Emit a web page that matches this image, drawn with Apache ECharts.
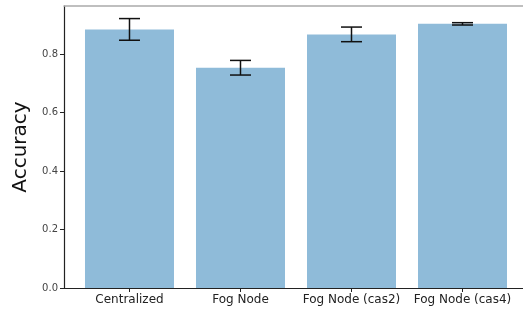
<!DOCTYPE html>
<html>
<head>
<meta charset="utf-8">
<script src="https://cdn.jsdelivr.net/npm/echarts@6/dist/echarts.min.js"></script>
<style>
  html, body { margin: 0; padding: 0; background: #fff; }
  #chart { width: 523px; height: 310px; }
</style>
</head>
<body>
<div id="chart"></div>
<script>
// 数据
var categories = ['Centralized', 'Fog Node', 'Fog Node (cas2)', 'Fog Node (cas4)'];
var accuracy = [0.884, 0.753, 0.867, 0.903];
var errors = [0.037, 0.025, 0.025, 0.004];
var yTicks = [0, 0.2, 0.4, 0.6, 0.8];

var positions = categories.map(function (c, i) { return i; });
var barData = accuracy.map(function (v, i) { return [i, v]; });
var errData = accuracy.map(function (v, i) { return [i, v - errors[i], v + errors[i]]; });

var myChart = echarts.init(document.getElementById('chart'));

var option = {
    backgroundColor: '#fff',
    animation: false,
    textStyle: { fontFamily: 'DejaVu Sans' },
    grid: { left: 64, right: 0, top: 6, bottom: 22, containLabel: false },
    xAxis: [
        {
            type: 'value',
            min: -0.59,
            max: 3.545,
            position: 'bottom',
            axisLine: { show: true, onZero: false, lineStyle: { color: '#222', width: 1.2 } },
            axisTick: { show: true, customValues: positions, length: 4, lineStyle: { color: '#222' } },
            axisLabel: {
                customValues: positions,
                color: '#222',
                fontSize: 12,
                margin: 6,
                formatter: function (v) { return categories[Math.round(v)]; }
            },
            splitLine: { show: false }
        },
        {
            type: 'value',
            min: -0.59,
            max: 3.545,
            position: 'top',
            axisLine: { show: true, onZero: false, lineStyle: { color: '#aaa', width: 1.5 } },
            axisTick: { show: false },
            axisLabel: { show: false },
            splitLine: { show: false }
        }
    ],
    yAxis: {
        type: 'value',
        min: 0,
        max: 0.964,
        name: 'Accuracy',
        nameLocation: 'middle',
        nameGap: 32,
        nameTextStyle: { fontSize: 20, color: '#111' },
        axisLine: { show: true, onZero: false, lineStyle: { color: '#222', width: 1.2 } },
        axisTick: { show: true, customValues: yTicks, length: 4, lineStyle: { color: '#222' } },
        axisLabel: {
            customValues: yTicks,
            color: '#444',
            fontSize: 10,
            margin: 6,
            formatter: function (v) { return v.toFixed(1); }
        },
        splitLine: { show: false }
    },
    series: [
        {
            type: 'bar',
            xAxisIndex: 0,
            data: barData,
            barWidth: 89,
            itemStyle: { color: '#8fbbd9' },
            z: 2
        },
        {
            type: 'custom',
            xAxisIndex: 0,
            data: errData,
            z: 5,
            renderItem: function (params, api) {
                var lo = api.coord([api.value(0), api.value(1)]);
                var hi = api.coord([api.value(0), api.value(2)]);
                var half = 10.5;
                var style = { stroke: '#111', lineWidth: 1.5 };
                return {
                    type: 'group',
                    children: [
                        { type: 'line', shape: { x1: hi[0], y1: hi[1], x2: lo[0], y2: lo[1] }, style: style },
                        { type: 'line', shape: { x1: hi[0] - half, y1: hi[1], x2: hi[0] + half, y2: hi[1] }, style: style },
                        { type: 'line', shape: { x1: lo[0] - half, y1: lo[1], x2: lo[0] + half, y2: lo[1] }, style: style }
                    ]
                };
            }
        }
    ]
};

myChart.setOption(option);
</script>
</body>
</html>
